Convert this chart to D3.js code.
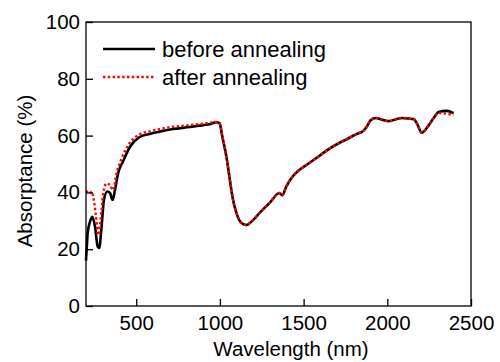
<!DOCTYPE html>
<html>
<head>
<meta charset="utf-8">
<script src="https://cdn.jsdelivr.net/npm/d3@7"></script>
<style>
  body { margin: 0; background: #fff; }
  svg text { font-family: "Liberation Sans", Arial, sans-serif; fill: #000; }
</style>
</head>
<body>
<div id="chart"></div>
<script>
// Absorptance spectra before / after annealing

const xTicks = [500, 1000, 1500, 2000, 2500];
const yTicks = [0, 20, 40, 60, 80, 100];

const seriesNames = ['before annealing', 'after annealing'];

const beforeWl = [200, 204, 210, 224, 238, 254, 270, 279, 293, 307, 327, 343, 359, 373, 392, 422, 462, 521, 580, 640, 720, 819, 900, 938, 980,
  998, 1015, 1039, 1057, 1075, 1099, 1129, 1158, 1190, 1236, 1300, 1355, 1373, 1396, 1432, 1474, 1515, 1593, 1634, 1712, 1753, 1831, 1849, 1872,
  1902, 1932, 1970, 2010, 2050, 2087, 2130, 2158, 2176, 2206, 2248, 2277, 2307, 2355, 2396];
const beforeAbs = [16, 20, 25.7, 29.7, 31.4, 27.9, 20.9, 20.4, 27.9, 37.3, 40.3, 39.8, 37.3, 40.8, 46.8, 51, 56, 59.5, 60.6, 61.4, 62.3, 63, 63.7, 64, 64.7,
  64.3, 59.5, 52.5, 45.4, 38.4, 32.7, 29.2, 28.5, 29.8, 32.7, 36.5, 39.8, 39, 42, 45.4, 47.9, 49.6, 52.8, 54.6, 57.4, 58.6, 60.9, 61.3, 62.7,
  65.5, 66.2, 65.6, 65.1, 65.7, 66.2, 66, 65.8, 64.4, 61, 63.7, 66.2, 68.3, 68.7, 67.9];

const afterWl = [200, 204, 220, 234, 243, 260, 273, 293, 303, 323, 343, 362, 383, 412, 462, 521, 580, 640, 720, 819, 900, 938, 980,
  998, 1015, 1039, 1057, 1075, 1099, 1129, 1158, 1190, 1236, 1300, 1355, 1373, 1396, 1432, 1474, 1515, 1593, 1634, 1712, 1753, 1831, 1849, 1872,
  1902, 1932, 1970, 2010, 2050, 2087, 2130, 2158, 2176, 2206, 2248, 2277, 2307, 2355, 2396];
const afterAbs = [40.5, 40.3, 39.6, 40.3, 38.5, 31.5, 25, 33.8, 39.8, 43.2, 42.6, 40.8, 46.8, 51.8, 57.5, 60.5, 61.5, 62.3, 63.1, 63.7, 64.2, 64.5, 64.8,
  64.3, 59.5, 52.5, 45.4, 38.4, 32.7, 29.2, 28.5, 29.8, 32.7, 36.5, 39.8, 39, 42, 45.4, 47.9, 49.6, 52.8, 54.6, 57.4, 58.6, 60.9, 61.3, 62.7,
  65.5, 66.2, 65.6, 65.1, 65.7, 66.2, 66, 65.8, 64.4, 61, 63.7, 66.2, 68, 67.7, 67.2];

const W = 500, H = 362;
const margin = { top: 22, right: 29, bottom: 56, left: 86 };
const width = W - margin.left - margin.right;
const height = H - margin.top - margin.bottom;

const svg = d3.select('#chart').append('svg')
    .attr('width', W)
    .attr('height', H);

const g = svg.append('g')
    .attr('transform', `translate(${margin.left},${margin.top})`);

const xScale = d3.scaleLinear().domain([200, 2500]).range([0, width]);
const yScale = d3.scaleLinear().domain([0, 100]).range([height, 0]);

const line = d3.line()
    .x(d => xScale(d[0]))
    .y(d => yScale(d[1]))
    .curve(d3.curveMonotoneX);

const beforeData = beforeWl.map((w, i) => [w, beforeAbs[i]]);
const afterData = afterWl.map((w, i) => [w, afterAbs[i]]);

g.append('path')
    .datum(beforeData)
    .attr('fill', 'none')
    .attr('stroke', '#000')
    .attr('stroke-width', 2.6)
    .attr('d', line);

g.append('path')
    .datum(afterData)
    .attr('fill', 'none')
    .attr('stroke', '#ff0000')
    .attr('stroke-width', 2.4)
    .attr('stroke-dasharray', '2.4,2.4')
    .attr('d', line);

// frame
g.append('rect')
    .attr('width', width)
    .attr('height', height)
    .attr('fill', 'none')
    .attr('stroke', '#000')
    .attr('stroke-width', 1.3);

// axes with inward ticks
const xAxis = g.append('g')
    .attr('transform', `translate(0,${height})`)
    .call(d3.axisBottom(xScale).tickValues(xTicks).tickFormat(d3.format('d'))
        .tickSize(-7).tickPadding(9).tickSizeOuter(0));
xAxis.select('.domain').remove();
xAxis.selectAll('line').attr('stroke-width', 1.3);
xAxis.selectAll('text').style('font-size', '20.5px').attr('fill', '#000');

const yAxis = g.append('g')
    .call(d3.axisLeft(yScale).tickValues(yTicks).tickFormat(d3.format('d'))
        .tickSize(-7).tickPadding(6).tickSizeOuter(0));
yAxis.select('.domain').remove();
yAxis.selectAll('line').attr('stroke-width', 1.3);
yAxis.selectAll('text').style('font-size', '20.5px').attr('fill', '#000');

// axis titles
svg.append('text')
    .attr('x', 291)
    .attr('y', 356)
    .attr('text-anchor', 'middle')
    .style('font-size', '20.5px')
    .text('Wavelength (nm)');

svg.append('text')
    .attr('transform', 'translate(32,171) rotate(-90)')
    .attr('text-anchor', 'middle')
    .style('font-size', '20.5px')
    .text('Absorptance (%)');

// legend
const legend = svg.append('g');
const legendRows = [
  { name: seriesNames[0], y: 49, stroke: '#000', dash: null, sw: 2.6 },
  { name: seriesNames[1], y: 77, stroke: '#ff0000', dash: '2.4,2.4', sw: 2.4 }
];
legendRows.forEach(r => {
  legend.append('line')
      .attr('x1', 103).attr('x2', 155)
      .attr('y1', r.y).attr('y2', r.y)
      .attr('stroke', r.stroke)
      .attr('stroke-width', r.sw)
      .attr('stroke-dasharray', r.dash);
  legend.append('text')
      .attr('x', 162)
      .attr('y', r.y + 8)
      .style('font-size', '22px')
      .text(r.name);
});
</script>
</body>
</html>
